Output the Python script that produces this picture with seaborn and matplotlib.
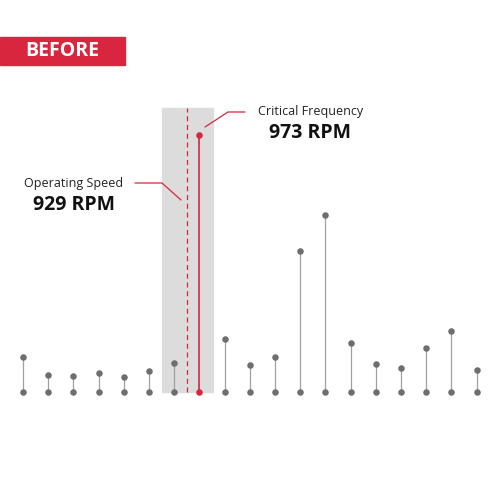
import matplotlib
matplotlib.use("Agg")
import matplotlib.pyplot as plt
import seaborn as sns
import numpy as np

heights = [35, 17, 16, 19, 15, 21, 29, 257, 53, 27, 35, 141, 177, 49, 28, 24, 44, 61, 22]
critical_idx = 7
operating_pos = 6.52
band = (5.52, 7.55)

sns.set_style("white")
plt.rcParams['font.family'] = ['Open Sans', 'DejaVu Sans']
red = '#d7263d'
gray_dot = '#6e6e6e'
gray_stem = '#a0a0a0'

fig = plt.figure(figsize=(5, 5), dpi=100)
ax = fig.add_axes([0, 0, 1, 1])
# 1 data unit in x = 25.2 px, 1 unit in y = 1 px
ax.set_xlim(-23 / 25.2, 477 / 25.2)
ax.set_ylim(-108, 392)
ax.axis('off')

ax.axvspan(band[0], band[1], ymin=108 / 500, ymax=392 / 500, color='#dcdcdc', zorder=0)
ax.plot([operating_pos, operating_pos], [0, 284], color=red, lw=0.9, ls=(0, (4, 3)), zorder=1)

x = np.arange(len(heights))
for i, h in enumerate(heights):
    c_stem = red if i == critical_idx else gray_stem
    c_dot = red if i == critical_idx else gray_dot
    ax.plot([i, i], [0, h], color=c_stem, lw=1.2 if i == critical_idx else 0.9, zorder=2)
    ax.scatter([i, i], [0, h], s=22, color=c_dot, zorder=3, linewidths=0)

# header
ax.add_patch(plt.Rectangle((-23 / 25.2, 392 - 65), 125 / 25.2, 28, color=red, clip_on=False))
ax.text(-23 / 25.2 + 62.5 / 25.2, 392 - 51, 'BEFORE', color='white', fontsize=14,
        fontweight='bold', ha='center', va='center')

def px(xp):
    return (xp - 23) / 25.2

# critical annotation
ax.plot([px(245), px(228), px(205)], [392 - 112, 392 - 112, 392 - 127], color=red, lw=0.9)
ax.text(px(311), 392 - 112, 'Critical Frequency', fontsize=9, ha='center', va='center', color='#222222')
ax.text(px(310), 392 - 133, '973 RPM', fontsize=14, fontweight='bold', ha='center', va='center', color='#111111')

# operating annotation
ax.plot([px(135), px(162), px(181)], [392 - 183, 392 - 183, 392 - 200], color=red, lw=0.9)
ax.text(px(74), 392 - 183, 'Operating Speed', fontsize=9, ha='center', va='center', color='#222222')
ax.text(px(74), 392 - 205, '929 RPM', fontsize=14, fontweight='bold', ha='center', va='center', color='#111111')

fig.savefig('out.png', dpi=100, facecolor='white')
